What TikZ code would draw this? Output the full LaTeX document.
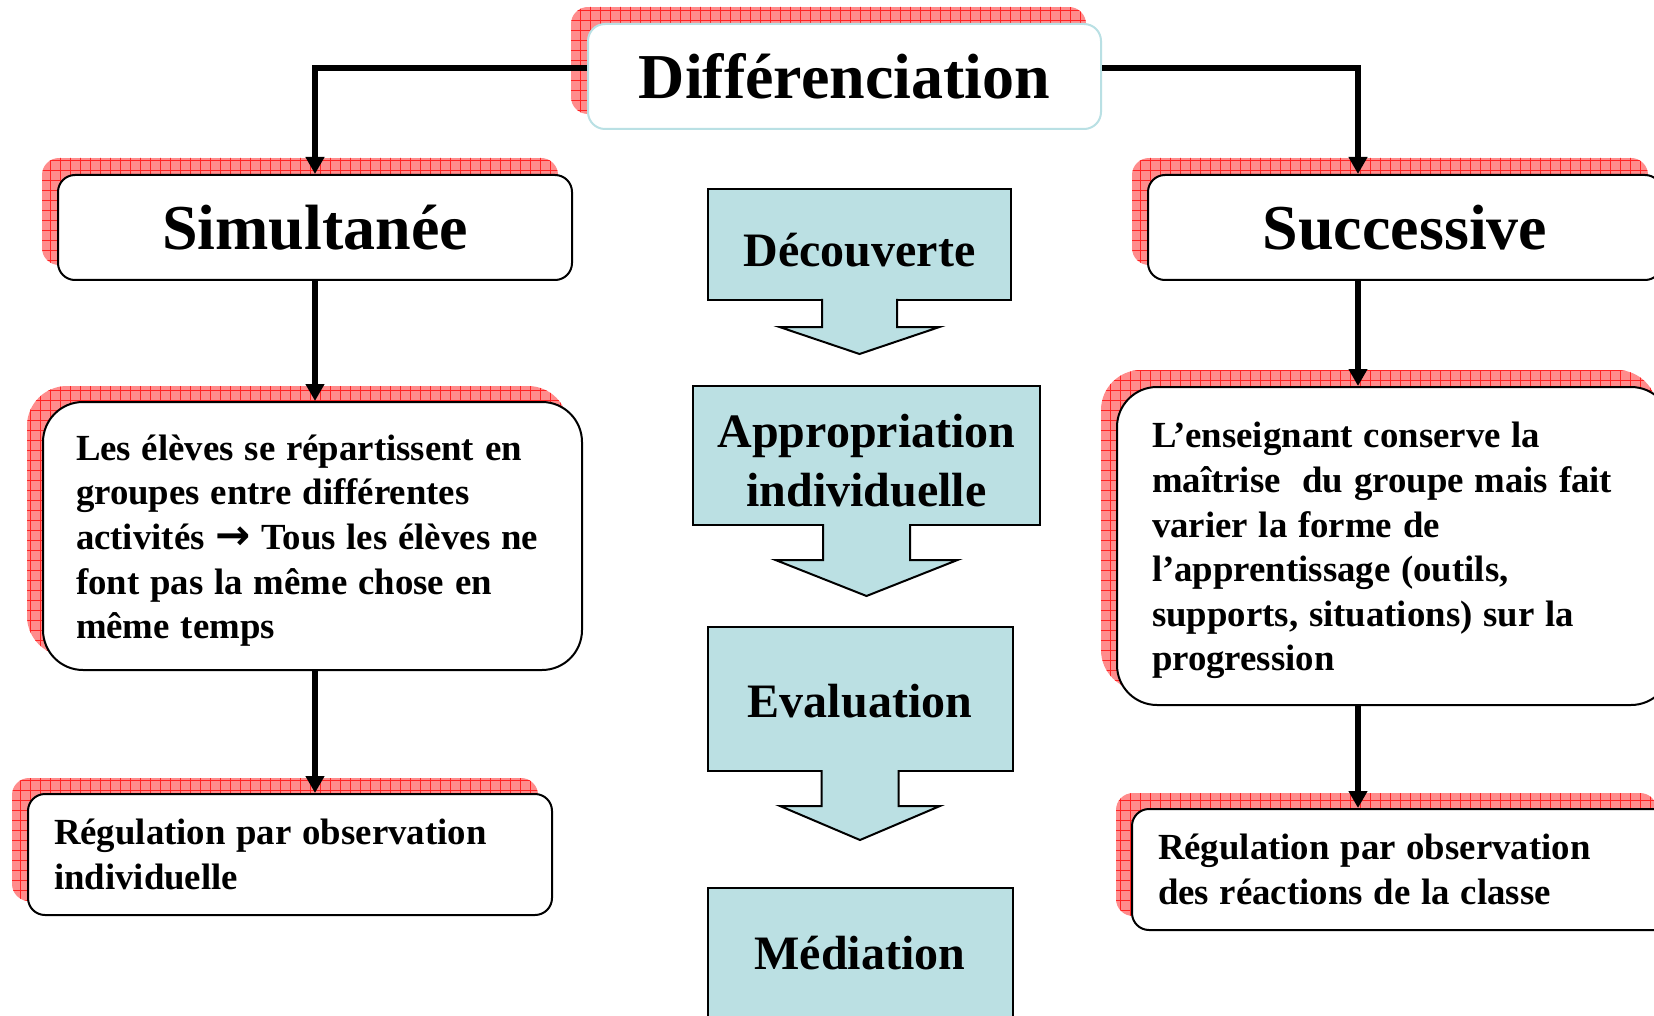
\documentclass[tikz,border=0pt]{standalone}
\usepackage{fontspec}
\setmainfont{Liberation Serif}
\newfontfamily\arrowsym{DejaVu Sans}
\usetikzlibrary{arrows.meta,calc,backgrounds}
\definecolor{shadowred}{RGB}{255,140,140}
\definecolor{gridred}{RGB}{255,35,35}
\definecolor{calloutblue}{RGB}{187,224,227}
\definecolor{titleline}{RGB}{185,224,228}
\newcommand\redshadow[3]{%
  \begin{scope}
    \clip[rounded corners=#2] ($(#1.north west)+#3$) rectangle ($(#1.south east)+#3$);
    \fill[shadowred] ($(#1.north west)+#3$) rectangle ($(#1.south east)+#3$);
    \draw[gridred, line width=0.9pt, step=10pt] (0,1100) grid (1700,0);
  \end{scope}}
\newcommand\callarrow[5]{%
  \draw[cstem] ($(#1.south)+(-#2,-1)$) -- ($(#1.south)+(-#2,#3)$) -- ($(#1.south)+(-#4,#3)$)
    -- ($(#1.south)+(0,#5)$) -- ($(#1.south)+(#4,#3)$) -- ($(#1.south)+(#2,#3)$) -- ($(#1.south)+(#2,-1)$);}
\newcommand\firststrut{\rule{0pt}{35pt}}
\newcommand\tightspaces{\spaceskip=10.8pt plus 1pt minus 1pt\relax}
\tikzset{
  conn/.style={line width=6pt, line join=miter, -{Triangle[width=18pt,length=17pt]}},
  headbox/.style={draw=black, line width=2pt, fill=white, rounded corners=17pt, inner sep=0pt,
    minimum height=105pt, anchor=north west, font=\bfseries\fontsize{64}{70}\selectfont},
  textbox/.style={draw=black, line width=2pt, fill=white, inner ysep=0pt, anchor=north west,
    align=left, font=\bfseries\fontsize{36.8}{44.6}\selectfont},
  cbox/.style={draw=black, line width=2pt, fill=calloutblue, outer sep=0pt, inner sep=0pt},
  ctext/.style={inner sep=0pt, align=center, font=\bfseries\fontsize{48}{59}\selectfont},
  cstem/.style={draw=black, line width=2pt, fill=calloutblue, line join=miter},
}
\begin{document}
\begin{tikzpicture}[x=1pt,y=-1pt]
\useasboundingbox (0,0) rectangle (1654,1016);
% top
\node[headbox, draw=titleline, minimum width=513pt] (dif) at (587,23) {Différenciation};
\node[headbox, minimum width=514pt] (sim) at (57,174) {Simultanée};
\node[headbox, minimum width=514pt] (suc) at (1147,174) {Successive};
% text boxes
\node[textbox, rounded corners=40pt, text width=473pt, inner xsep=33pt, minimum height=268pt] (ltext) at (42,401)
  {\tightspaces\firststrut Les élèves se répartissent en\\groupes entre différentes\\activités {\arrowsym\fontsize{42}{42}\selectfont →} Tous les élèves ne\\font pas la même chose en\\même temps};
\node[textbox, rounded corners=40pt, text width=484pt, inner xsep=35pt, minimum height=318pt] (rtext) at (1116,386)
  {\tightspaces\firststrut L’enseignant conserve la\\maîtrise \ du groupe mais fait\\varier la forme de\\l’apprentissage (outils,\\supports, situations) sur la\\progression};
\node[textbox, rounded corners=17pt, text width=472pt, inner xsep=26pt, minimum height=121pt] (lreg) at (27,793)
  {\tightspaces Régulation par observation\\individuelle};
\node[textbox, rounded corners=17pt, text width=487pt, inner xsep=26pt, minimum height=121pt] (rreg) at (1131,808)
  {\tightspaces Régulation par observation\\des réactions de la classe};
% central callouts
\node[cbox, minimum width=303pt, minimum height=111pt] (decbox) at (859.5,244.5) {};
\callarrow{decbox}{37.5}{27}{80}{54}
\node[ctext] (dec) at (859.5,250) {Découverte};
\node[cbox, minimum width=347pt, minimum height=139pt] (appbox) at (866.5,455.5) {};
\callarrow{appbox}{43.5}{35}{91}{71}
\node[ctext] (app) at (866.5,461) {Appropriation\\individuelle};
\node[cbox, minimum width=305pt, minimum height=144pt] (evabox) at (860,699) {};
\callarrow{evabox}{38.5}{35}{80}{69}
\node[ctext] (eva) at (860,701.5) {Evaluation};
\node[cbox, minimum width=305pt, minimum height=144pt] (medbox) at (860,960) {};
\node[ctext] (med) at (860,953) {Médiation};
% connectors
\coordinate (rx) at (1358,0);
\draw[conn] ([yshift=8pt]dif.west) -| (sim.north);
\draw[conn] ([yshift=8pt]dif.east) -| (rx |- suc.north);
\draw[conn] (sim.south) -- (sim.south |- ltext.north);
\draw[conn] (sim.south |- ltext.south) -- (sim.south |- lreg.north);
\draw[conn] (rx |- suc.south) -- (rx |- rtext.north);
\draw[conn] (rx |- rtext.south) -- (rx |- rreg.north);
% shadows
\begin{scope}[on background layer]
  \fill[white] (0,0) rectangle (1654,1016);
  \redshadow{dif}{17pt}{(-16,-16)}
  \redshadow{sim}{17pt}{(-15,-16)}
  \redshadow{suc}{17pt}{(-15,-16)}
  \redshadow{ltext}{40pt}{(-15,-15)}
  \redshadow{rtext}{40pt}{(-15,-16)}
  \redshadow{lreg}{17pt}{(-15,-15)}
  \redshadow{rreg}{17pt}{(-15,-15)}
\end{scope}
\end{tikzpicture}
\end{document}
